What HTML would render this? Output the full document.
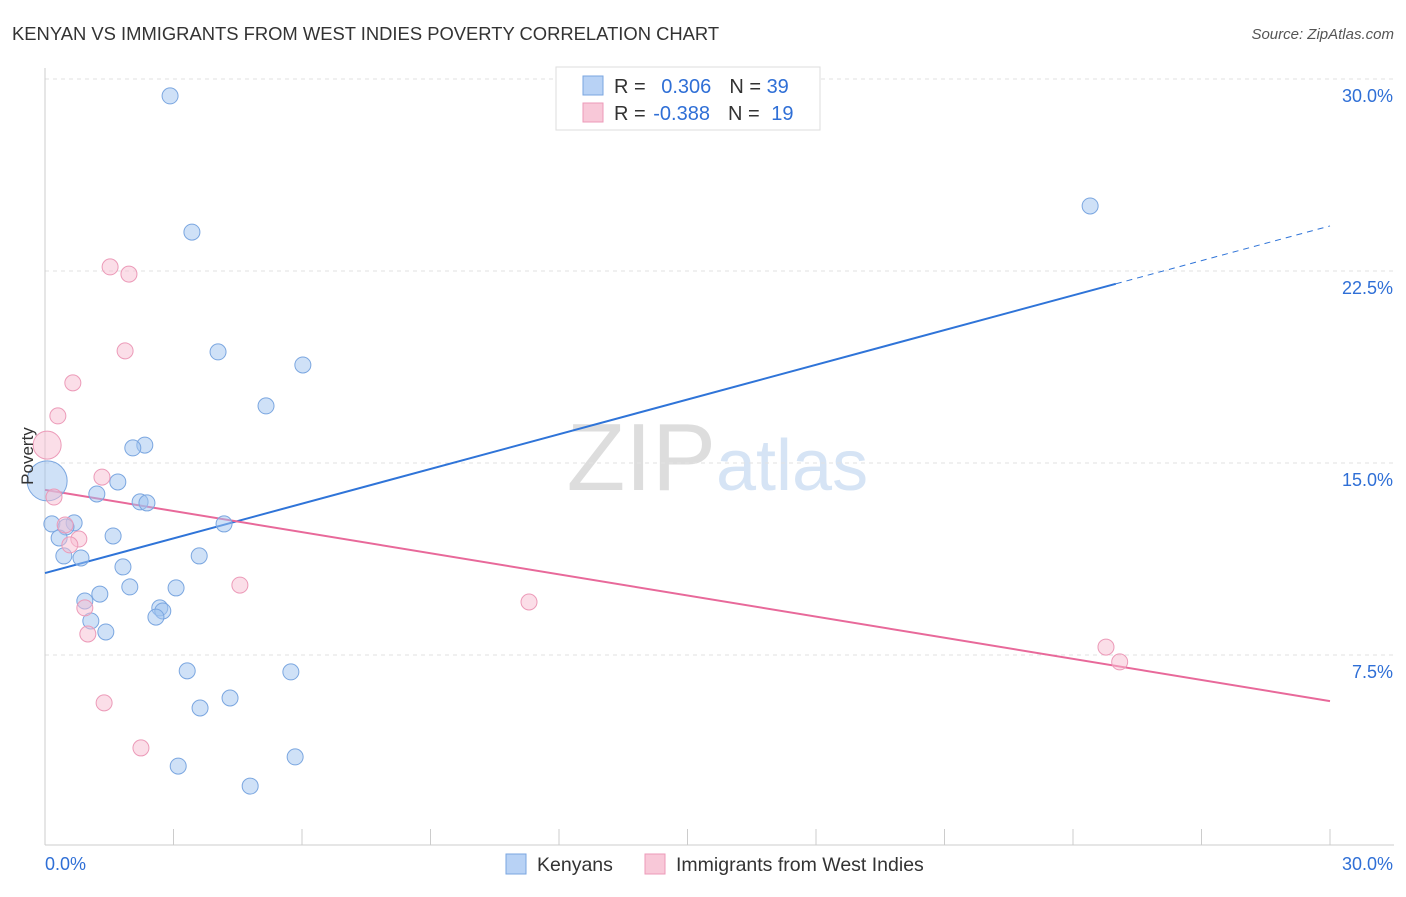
<!DOCTYPE html>
<html><head><meta charset="utf-8"><style>
body{margin:0;background:#fff;font-family:"Liberation Sans",sans-serif;}
svg text{font-family:"Liberation Sans",sans-serif;}
</style></head><body>
<svg id="c" width="1406" height="892" xmlns="http://www.w3.org/2000/svg">
<text x="12" y="40" font-size="18.4" fill="#333">KENYAN VS IMMIGRANTS FROM WEST INDIES POVERTY CORRELATION CHART</text>
<text x="1394" y="39" font-size="15" fill="#555" font-style="italic" text-anchor="end">Source: ZipAtlas.com</text>
<text x="716" y="490" font-size="96" fill="#ddd" text-anchor="end" font-family="Liberation Serif">ZIP</text>
<text x="716" y="490" font-size="72" fill="#d6e4f5">atlas</text>
<g id="grid"></g><g id="axes"></g><g id="trend"></g><g id="pts"></g>
<text x="33" y="456" font-size="17" fill="#333" text-anchor="middle" transform="rotate(-90 33 456)">Poverty</text>
<g>
<rect x="556" y="67" width="264" height="63" fill="#fff" stroke="#ddd"/>
<rect x="583" y="76" width="20" height="19" fill="#b8d2f5" stroke="#7aa6e0"/>
<rect x="583" y="103" width="20" height="19" fill="#f8c8d8" stroke="#ec9ab8"/>
<text x="614" y="93" font-size="20" fill="#333">R = <tspan fill="#2f6fd6" dx="10">0.306</tspan><tspan dx="18" fill="#333">N = </tspan><tspan fill="#2f6fd6">39</tspan></text>
<text x="614" y="120" font-size="20" fill="#333">R = <tspan fill="#2f6fd6" dx="2">-0.388</tspan><tspan dx="18" fill="#333">N = </tspan><tspan fill="#2f6fd6" dx="6">19</tspan></text>
</g>
<g>
<rect x="506" y="854" width="20" height="20" fill="#b8d2f5" stroke="#7aa6e0"/>
<text x="537" y="871" font-size="19.5" fill="#333">Kenyans</text>
<rect x="645" y="854" width="20" height="20" fill="#f8c8d8" stroke="#ec9ab8"/>
<text x="676" y="871" font-size="19.5" fill="#333">Immigrants from West Indies</text>
</g>
</svg>
<script>
const yTicks=[7.5,15,22.5,30];
const yTickLabels=["7.5%","15.0%","22.5%","30.0%"];
const xTickCount=10;
const blueX=[2.92,3.43,24.40,4.04,6.02,5.16,2.33,2.05,1.70,1.21,2.22,2.38,0.16,0.68,0.49,4.18,0.33,1.59,3.60,0.44,0.84,1.82,1.98,3.06,0.93,1.28,2.68,2.75,2.59,1.07,1.42,3.32,5.74,4.32,3.62,5.84,3.11,4.79,0.05];
const blueY=[29.34,24.02,25.04,19.34,18.83,17.23,15.70,15.59,14.26,13.79,13.48,13.44,12.62,12.66,12.50,12.62,12.07,12.15,11.37,11.37,11.29,10.94,10.16,10.12,9.61,9.88,9.34,9.22,8.98,8.83,8.40,6.88,6.84,5.82,5.43,3.52,3.16,2.38,14.30];
const pinkX=[1.52,1.96,1.87,0.65,0.30,0.05,1.33,0.21,0.47,0.79,0.58,4.55,11.30,0.93,1.00,24.77,25.09,1.38,2.24];
const pinkY=[22.66,22.38,19.38,18.13,16.84,15.70,14.45,13.67,12.58,12.03,11.80,10.23,9.57,9.34,8.32,7.81,7.23,5.63,3.87];
const blueTrend=[10.70,24.26];
const pinkTrend=[13.95,5.70];
const NS="http://www.w3.org/2000/svg";
const X=v=>45+v/30*1285, Y=v=>847-v/7.5*192;
function mk(tag,a,p){const e=document.createElementNS(NS,tag);for(const k in a)e.setAttribute(k,a[k]);document.getElementById(p).appendChild(e);return e;}
yTicks.forEach((t,i)=>{
 const l=mk('line',{x1:45,x2:1394,y1:Y(t),y2:Y(t),stroke:'#e2e2e2','stroke-dasharray':'4,4'},'grid');
 
 
 const tx=mk('text',{x:1393,y:Y(t)+23,'font-size':18,fill:'#2f6fd6','text-anchor':'end'},'grid');tx.textContent=yTickLabels[i];
 
 
});
let la=mk('line',{x1:45,x2:45,y1:68,y2:845,stroke:'#ccc'},'axes');


let lb=mk('line',{x1:45,x2:1394,y1:845,y2:845,stroke:'#ccc'},'axes');


for(let i=0;i<=xTickCount;i++){const x=X(30*i/xTickCount);const t=mk('line',{x1:x,x2:x,y1:829,y2:845,stroke:'#ccc'},'axes');
 
 }
let t0=mk('text',{x:45,y:870,'font-size':18,fill:'#2f6fd6'},'axes');t0.textContent='0.0%';


let t1=mk('text',{x:1393,y:870,'font-size':18,fill:'#2f6fd6','text-anchor':'end'},'axes');t1.textContent='30.0%';


const bAt=x=>blueTrend[0]+(blueTrend[1]-blueTrend[0])*x/30;
let bl=mk('line',{x1:X(0),y1:Y(bAt(0)),x2:X(25),y2:Y(bAt(25)),stroke:'#2f74d8','stroke-width':2},'trend');


let bd=mk('line',{x1:X(25),y1:Y(bAt(25)),x2:X(30),y2:Y(bAt(30)),stroke:'#2f74d8','stroke-width':1,'stroke-dasharray':'6,5'},'trend');


let pl=mk('line',{x1:X(0),y1:Y(pinkTrend[0]),x2:X(30),y2:Y(pinkTrend[1]),stroke:'#e8699a','stroke-width':2},'trend');


blueX.forEach((v,i)=>{const c=mk('circle',{cx:X(v),cy:Y(blueY[i]),r:i==38?20:8,fill:'rgba(160,196,240,0.5)',stroke:'#7aa6e0','stroke-width':1},'pts');
 
 });
pinkX.forEach((v,i)=>{const c=mk('circle',{cx:X(v),cy:Y(pinkY[i]),r:i==5?14:8,fill:'rgba(248,190,210,0.5)',stroke:'#ec9ab8','stroke-width':1},'pts');
 
 });
</script>
</body></html>
